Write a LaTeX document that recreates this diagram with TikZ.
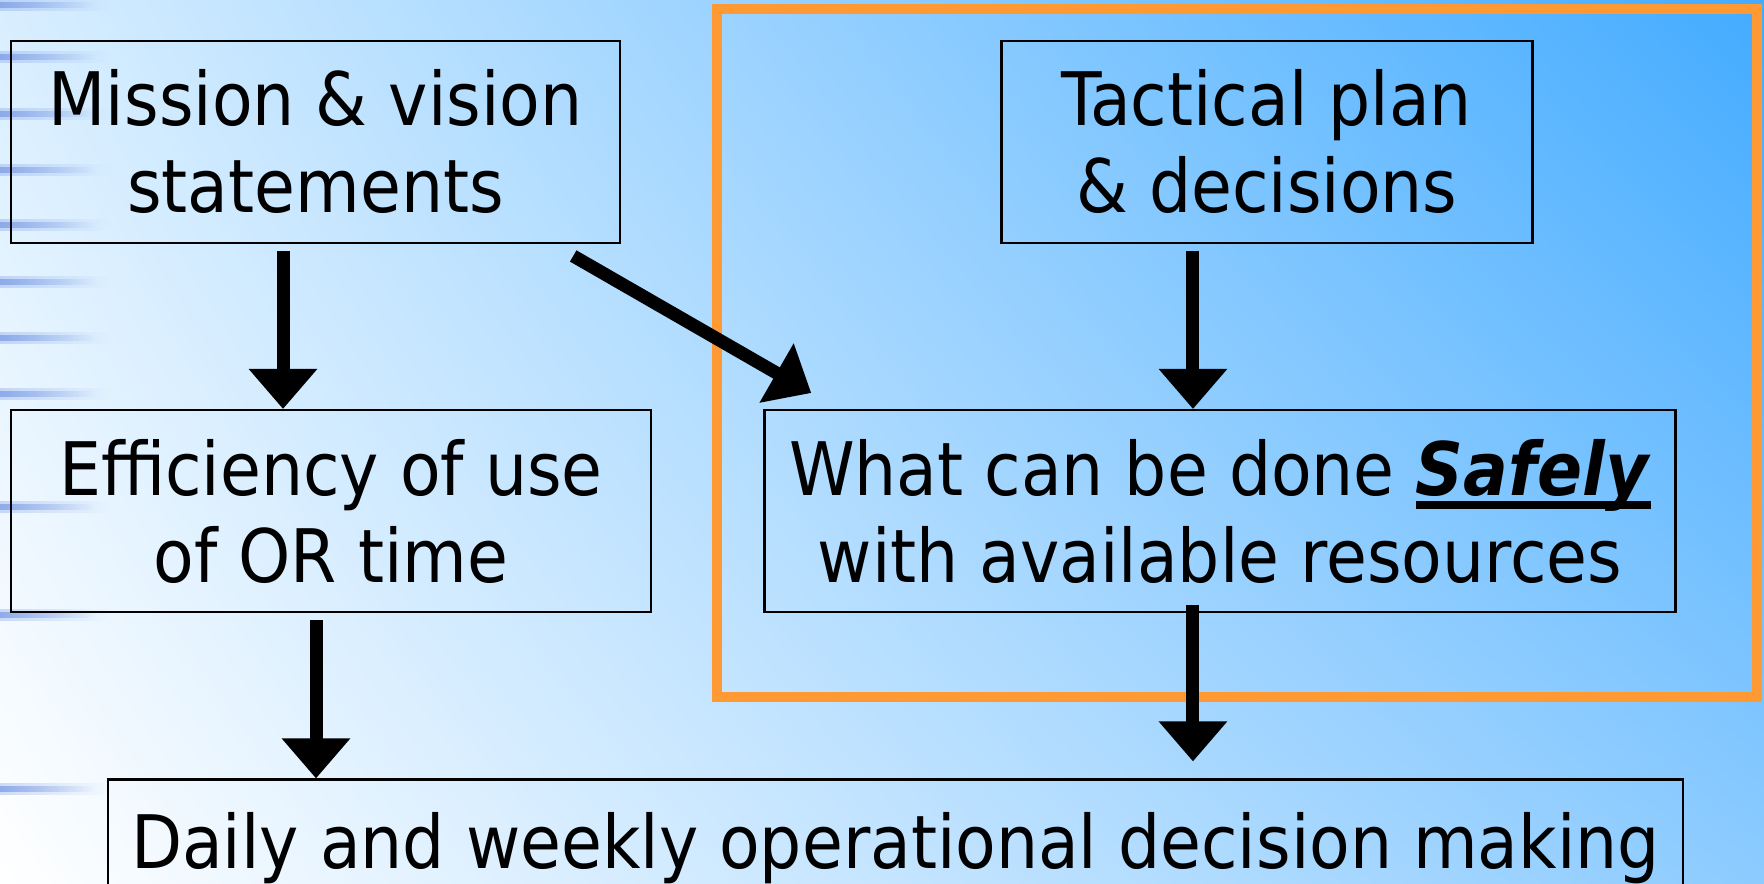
\documentclass[tikz,border=0pt]{standalone}
\usepackage{fontspec}
\setmainfont{DejaVu Sans Condensed}
\usetikzlibrary{positioning,arrows.meta,fadings,shadings}

\definecolor{framecol}{HTML}{FF9933}
\definecolor{stripecol}{HTML}{7C9CE6}
\definecolor{bgul}{HTML}{D8EEFF}
\definecolor{bgur}{HTML}{43ABFF}
\definecolor{bglr}{HTML}{8CCBFF}

\newcommand{\thickuline}[1]{\setbox0\hbox{#1}\rlap{\rule[-0.18em]{\wd0}{0.1em}}\box0}

\tikzset{
  box/.style={draw, line width=0.7pt, rectangle, align=center, inner sep=0pt,
    minimum height=2.02cm, font=\fontsize{21}{24.7}\selectfont},
  bigarrow/.style={line width=0.13cm, -{Triangle[width=0.66cm,length=0.40cm]}},
  stripe/.style={stripecol, path fading=east},
}

\begin{document}
\begin{tikzpicture}
    \useasboundingbox (0,0) rectangle (17.64,-8.84);
    \clip (0,0) rectangle (17.64,-8.84);
    % background
    \shade[upper left=bgul, upper right=bgur, lower left=white, lower right=bglr]
      (0,0) rectangle (17.64,-8.84);
    \foreach \y in {0.05,0.57,1.14,1.70,2.25,2.82,3.38,3.94,5.07,6.15,7.89} {
      \fill[stripe, opacity=0.35] (0,-\y+0.06) rectangle (1.1,-\y-0.06);
      \fill[stripe, opacity=0.75] (0,-\y+0.03) rectangle (0.95,-\y-0.03);
    }

    \draw[framecol, line width=0.1cm] (7.17,-0.095) rectangle (17.57,-6.97);

    \node[box, minimum width=6.09cm] (mission) at (3.155,-1.4175) {Mission \& vision\\statements};
    \node[box, minimum width=5.31cm, right=3.79cm of mission.north east, anchor=north west] (tactical) {Tactical plan\\\& decisions};
    \node[box, minimum width=6.40cm, below=1.65cm of mission.south west, anchor=north west] (eff) {Efficiency of use\\of OR time};
    \node[box, minimum width=9.11cm, right=1.11cm of eff.north east, anchor=north west] (what) {What can be done \thickuline{\textbf{\textit{Safely}}}\\with available resources};
    \node[box, minimum width=15.75cm, minimum height=1.36cm, below=1.65cm of eff.south west, anchor=north west, xshift=0.97cm] (daily) {Daily and weekly operational decision making};

    % arrow ends
    \coordinate (m1) at ([xshift=-0.325cm,yshift=-0.07cm]mission.south);
    \coordinate (t1) at ([xshift=-0.74cm,yshift=-0.07cm]tactical.south);
    \coordinate (e1) at ([xshift=-0.15cm,yshift=-0.07cm]eff.south);
    \coordinate (w1) at ([xshift=-0.27cm,yshift=0.08cm]what.south);
    \coordinate (m2) at (m1 |- eff.north);
    \coordinate (t2) at (t1 |- what.north);
    \coordinate (e2) at (e1 |- daily.north);
    \coordinate (w2) at (w1 |- daily.north);

    \draw[bigarrow] (m1) -- (m2);
    \draw[bigarrow] ([xshift=-0.48cm,yshift=-0.12cm]mission.south east) -- ([xshift=0.48cm,yshift=0.16cm]what.north west);
    \draw[bigarrow] (t1) -- (t2);
    \draw[bigarrow] (e1) -- (e2);
    \draw[bigarrow] (w1) -- ([yshift=0.17cm]w2);

  \end{tikzpicture}
\end{document}
